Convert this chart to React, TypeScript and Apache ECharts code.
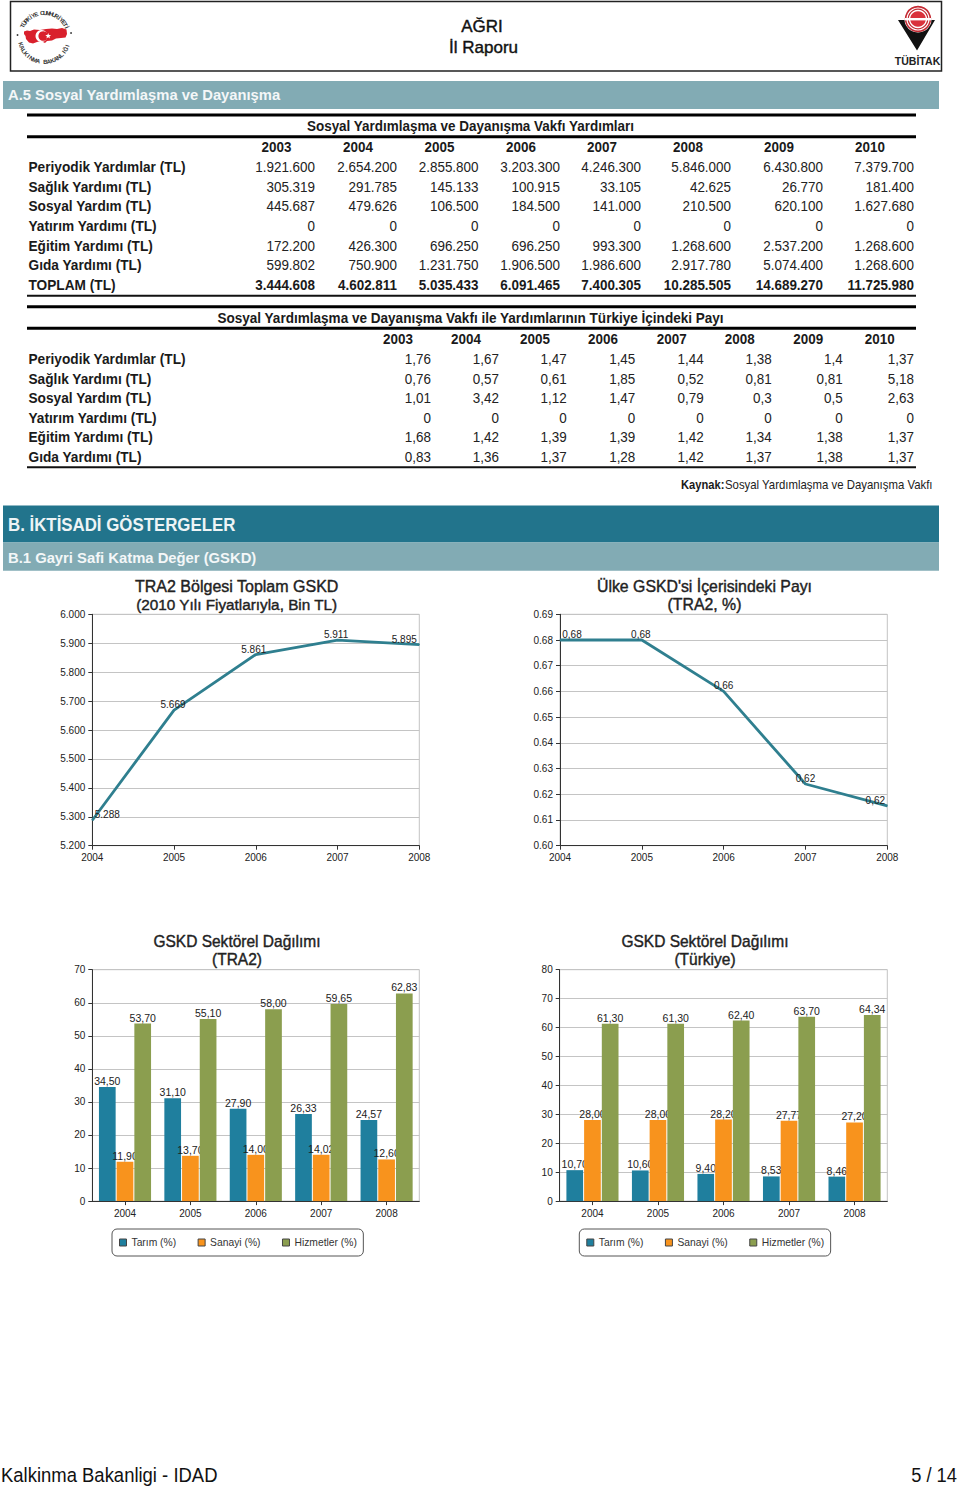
import React, { useEffect, useRef } from "react";
import * as echarts from "echarts";

const FONT = "'Liberation Sans', Arial, sans-serif";

// ---- page text ----
const PAGE_TITLE = "AĞRI";
const PAGE_SUBTITLE = "İl Raporu";
const SECTION_A5 = "A.5 Sosyal Yardımlaşma ve Dayanışma";
const SECTION_B = "B. İKTİSADİ GÖSTERGELER";
const SECTION_B1 = "B.1 Gayri Safi Katma Değer (GSKD)";
const FOOTER_LEFT = "Kalkinma Bakanligi - IDAD";
const FOOTER_RIGHT = "5 / 14";

// ---- tables ----
const TABLE_YEARS = ["2003", "2004", "2005", "2006", "2007", "2008", "2009", "2010"];
const TABLE1_TITLE = "Sosyal Yardımlaşma ve Dayanışma Vakfı Yardımları";
const TABLE1_LABELS = [
  "Periyodik Yardımlar (TL)",
  "Sağlık Yardımı (TL)",
  "Sosyal Yardım (TL)",
  "Yatırım Yardımı (TL)",
  "Eğitim Yardımı (TL)",
  "Gıda Yardımı (TL)",
  "TOPLAM (TL)",
];
const T1_PERIYODIK = ["1.921.600", "2.654.200", "2.855.800", "3.203.300", "4.246.300", "5.846.000", "6.430.800", "7.379.700"];
const T1_SAGLIK = ["305.319", "291.785", "145.133", "100.915", "33.105", "42.625", "26.770", "181.400"];
const T1_SOSYAL = ["445.687", "479.626", "106.500", "184.500", "141.000", "210.500", "620.100", "1.627.680"];
const T1_YATIRIM = ["0", "0", "0", "0", "0", "0", "0", "0"];
const T1_EGITIM = ["172.200", "426.300", "696.250", "696.250", "993.300", "1.268.600", "2.537.200", "1.268.600"];
const T1_GIDA = ["599.802", "750.900", "1.231.750", "1.906.500", "1.986.600", "2.917.780", "5.074.400", "1.268.600"];
const T1_TOPLAM = ["3.444.608", "4.602.811", "5.035.433", "6.091.465", "7.400.305", "10.285.505", "14.689.270", "11.725.980"];

const TABLE2_TITLE = "Sosyal Yardımlaşma ve Dayanışma Vakfı ile Yardımlarının Türkiye İçindeki Payı";
const T2_PERIYODIK = ["1,76", "1,67", "1,47", "1,45", "1,44", "1,38", "1,4", "1,37"];
const T2_SAGLIK = ["0,76", "0,57", "0,61", "1,85", "0,52", "0,81", "0,81", "5,18"];
const T2_SOSYAL = ["1,01", "3,42", "1,12", "1,47", "0,79", "0,3", "0,5", "2,63"];
const T2_YATIRIM = ["0", "0", "0", "0", "0", "0", "0", "0"];
const T2_EGITIM = ["1,68", "1,42", "1,39", "1,39", "1,42", "1,34", "1,38", "1,37"];
const T2_GIDA = ["0,83", "1,36", "1,37", "1,28", "1,42", "1,37", "1,38", "1,37"];
const SOURCE_BOLD = "Kaynak:";
const SOURCE_TEXT = "Sosyal Yardımlaşma ve Dayanışma Vakfı";

// ---- charts ----
const CHART_YEARS = ["2004", "2005", "2006", "2007", "2008"];
const TRA2_GSKD = [5288, 5669, 5861, 5911, 5895];
const TRA2_SHARE = [0.68, 0.68, 0.66, 0.624, 0.6155];
const TRA2_TARIM = [34.5, 31.1, 27.9, 26.33, 24.57];
const TRA2_SANAYI = [11.9, 13.7, 14.0, 14.02, 12.6];
const TRA2_HIZMET = [53.7, 55.1, 58.0, 59.65, 62.83];
const TR_TARIM = [10.7, 10.6, 9.4, 8.53, 8.46];
const TR_SANAYI = [28.0, 28.0, 28.2, 27.77, 27.2];
const TR_HIZMET = [61.3, 61.3, 62.4, 63.7, 64.34];
const SECTOR_NAMES = ["Tarım (%)", "Sanayi (%)", "Hizmetler (%)"];

const TITLE_1 = ["TRA2 Bölgesi Toplam GSKD", "(2010 Yılı Fiyatlarıyla, Bin TL)"];
const TITLE_2 = ["Ülke GSKD'si İçerisindeki Payı", "(TRA2, %)"];
const TITLE_3 = ["GSKD Sektörel Dağılımı", "(TRA2)"];
const TITLE_4 = ["GSKD Sektörel Dağılımı", "(Türkiye)"];

const BLUE = "#1f7f9e";
const ORANGE = "#f8931d";
const OLIVE = "#8b9e4f";
const LINE = "#2f7f8f";
const LIGHT_BAND = "#82abb4";
const DARK_BAND = "#22748c";
const INK = "#1a1a1a";

// ---- layout of the tables ----
const T1_RIGHT = [315, 397, 478.5, 560, 641, 731, 823, 914];
const T1_YEAR_X = [276.5, 358, 439.5, 521, 602, 688, 779, 870];
const T1_ROW_Y = [167, 186.6, 206.2, 226, 245.6, 265.2, 284.6];
const T2_RIGHT = [431, 499, 566.7, 635.3, 703.7, 771.7, 842.7, 914];
const T2_YEAR_X = [398, 466, 535, 603, 671.7, 739.7, 808.3, 879.7];
const T2_ROW_Y = [359, 378.5, 398, 417.7, 437.3, 457];

// label nudges along x for the line charts (first and last labels sit inside the plot)
const LINE1_DX = [15, -1, -2, -1.5, -15];
const LINE2_DX = [12, -1, 0, 0, -12];

const text = (t: string, x: number, y: number, size: number, opts: any = {}) => ({
  type: "text",
  x,
  y,
  z: 10,
  scaleX: opts.scaleX ?? 1,
  style: {
    text: t,
    fontFamily: FONT,
    fontSize: size,
    fontWeight: opts.weight ?? "normal",
    fill: opts.fill ?? INK,
    textAlign: opts.align ?? "left",
    textVerticalAlign: "middle",
    ...(opts.stroke ? { stroke: opts.fill ?? INK, lineWidth: opts.stroke } : {}),
  },
});

const rect = (x: number, y: number, w: number, h: number, fill: string) => ({
  type: "rect",
  z: 1,
  shape: { x, y, width: w, height: h },
  style: { fill },
});

function tableElements(
  title: string,
  titleY: number,
  titleScale: number,
  lineY: [number, number, number],
  yearY: number,
  yearX: number[],
  rowY: number[],
  right: number[],
  rows: string[][],
  boldLast: boolean
) {
  const els: any[] = [
    rect(27, lineY[0] - 1.5, 889, 3, "#000"),
    rect(27, lineY[1] - 1.5, 889, 3, "#000"),
    rect(27, lineY[2] - 1, 889, 2, "#111"),
    text(title, 470.5, titleY, 14.3, { weight: "bold", align: "center", scaleX: titleScale }),
  ];
  TABLE_YEARS.forEach((y, i) =>
    els.push(text(y, yearX[i], yearY, 14.3, { weight: "bold", align: "center", scaleX: 0.94 }))
  );
  rows.forEach((r, ri) => {
    const isBold = boldLast && ri === rows.length - 1;
    els.push(text(TABLE1_LABELS[ri], 28.5, rowY[ri], 14.3, { weight: "bold", scaleX: 0.957 }));
    r.forEach((v, ci) =>
      els.push(
        text(v, right[ci], rowY[ri], 14.3, {
          align: "right",
          weight: isBold ? "bold" : "normal",
          fill: isBold ? INK : "#222",
          scaleX: 0.94,
        })
      )
    );
  });
  return els;
}

function ringText(str: string, cx: number, cy: number, r: number, from: number, to: number, bottom: boolean) {
  const chars = Array.from(str);
  return chars.map((c, i) => {
    const a = ((from + ((to - from) * i) / (chars.length - 1)) * Math.PI) / 180;
    const x = cx + r * Math.sin(a);
    const y = bottom ? cy + r * Math.cos(a) : cy - r * Math.cos(a);
    return {
      type: "text",
      x,
      y,
      z: 10,
      rotation: bottom ? a : -a,
      style: {
        text: c,
        fontFamily: FONT,
        fontSize: 6,
        fontWeight: "bold",
        fill: "#333",
        textAlign: "center",
        textVerticalAlign: "middle",
      },
    };
  });
}

function logoElements() {
  const cx = 44.3;
  const cy = 37.5;
  const turkey = [
    [24, 31.5], [27, 30.5], [30, 31], [34, 29.5], [40, 30], [46, 29], [52, 28.5], [57, 29], [62, 28], [66.5, 29.5],
    [67, 34], [65.5, 37.5], [61, 38], [56, 38.5], [52, 40.5], [47, 41], [45, 43], [41, 41], [37, 42], [33, 43.5],
    [29, 42.5], [26, 39], [25.5, 36], [24, 34],
  ];
  const star = [0, 1, 2, 3, 4, 5, 6, 7, 8, 9].map((i) => {
    const a = (i * Math.PI) / 5 - Math.PI / 2;
    const r = i % 2 === 0 ? 3 : 1.3;
    return [48.2 + r * Math.cos(a), 36 + r * Math.sin(a)];
  });
  return [
    ...ringText("TÜRKİYE CUMHURİYETİ", cx, cy, 24.5, -62, 66, false),
    ...ringText("KALKINMA BAKANLIĞI", cx, cy, 24.5, -74, 70, true),
    { type: "circle", z: 10, shape: { cx: 17.5, cy: 35, r: 0.9 }, style: { fill: "#333" } },
    { type: "circle", z: 10, shape: { cx: 71, cy: 33, r: 0.9 }, style: { fill: "#333" } },
    { type: "polygon", z: 10, shape: { points: turkey }, style: { fill: "#d9202c" } },
    { type: "circle", z: 11, shape: { cx: 41.5, cy: 36, r: 6 }, style: { fill: "#fff" } },
    { type: "circle", z: 11, shape: { cx: 43.2, cy: 36, r: 4.8 }, style: { fill: "#d9202c" } },
    { type: "polygon", z: 12, shape: { points: star }, style: { fill: "#fff" } },
    // TÜBİTAK mark
    { type: "polygon", z: 10, shape: { points: [[898, 20], [908, 20], [917.5, 29], [927, 20], [935, 20], [917, 50.5]] }, style: { fill: "#111" } },
    { type: "circle", z: 11, shape: { cx: 918, cy: 19, r: 13.6 }, style: { fill: "#fff" } },
    { type: "ring", z: 12, shape: { cx: 918, cy: 19, r: 13.2, r0: 11.6 }, style: { fill: "#c42a33" } },
    { type: "ring", z: 12, shape: { cx: 918, cy: 19, r: 10.4, r0: 9.2 }, style: { fill: "#c42a33" } },
    { type: "circle", z: 12, shape: { cx: 918, cy: 19, r: 7.8 }, style: { fill: "#d9323c" } },
    { type: "rect", z: 13, shape: { x: 905, y: 18, width: 26, height: 2.4 }, style: { fill: "#fff" } },
    text("TÜBİTAK", 917.5, 60.5, 11.5, { weight: "bold", align: "center", fill: "#222", scaleX: 0.92 }),
  ];
}

function titleLines(lines: string[], x: number, y: number, size2: number, scale1: number) {
  return [
    text(lines[0], x, y, 16, { align: "center", fill: "#222", stroke: 0.4, scaleX: scale1 }),
    text(lines[1], x, y + 18.3, size2, { align: "center", fill: "#222", stroke: 0.4, scaleX: scale1 }),
  ];
}

function pageGraphics() {
  const t1Rows = [T1_PERIYODIK, T1_SAGLIK, T1_SOSYAL, T1_YATIRIM, T1_EGITIM, T1_GIDA, T1_TOPLAM];
  const t2Rows = [T2_PERIYODIK, T2_SAGLIK, T2_SOSYAL, T2_YATIRIM, T2_EGITIM, T2_GIDA];
  return [
    {
      type: "rect",
      z: 1,
      shape: { x: 10.5, y: 1.5, width: 931, height: 69.5 },
      style: { fill: "#fff", stroke: "#222", lineWidth: 1.5 },
    },
    text(PAGE_TITLE, 482, 26, 17, { align: "center", fill: "#111", stroke: 0.4 }),
    text(PAGE_SUBTITLE, 483.5, 47, 17, { align: "center", fill: "#111", stroke: 0.4 }),
    ...logoElements(),
    rect(3, 81, 936, 28, LIGHT_BAND),
    text(SECTION_A5, 8, 95, 15, { weight: "bold", fill: "#f4f7f8", scaleX: 0.985 }),
    ...tableElements(TABLE1_TITLE, 126, 0.942, [115, 136.7, 295.8], 147, T1_YEAR_X, T1_ROW_Y, T1_RIGHT, t1Rows, true),
    ...tableElements(TABLE2_TITLE, 318, 0.948, [306.7, 328.3, 467.3], 339, T2_YEAR_X, T2_ROW_Y, T2_RIGHT, t2Rows, false),
    text(SOURCE_BOLD, 681, 484.7, 12, { weight: "bold", scaleX: 0.93 }),
    text(SOURCE_TEXT, 932.5, 484.7, 12, { align: "right", fill: "#222", scaleX: 0.95 }),
    rect(3, 505.5, 936, 37, DARK_BAND),
    text(SECTION_B, 8, 525, 18, { weight: "bold", fill: "#eef4f6", scaleX: 0.936 }),
    rect(3, 542.5, 936, 28.3, LIGHT_BAND),
    text(SECTION_B1, 8, 557.5, 15, { weight: "bold", fill: "#f4f7f8", scaleX: 0.987 }),
    text(FOOTER_LEFT, 1, 1475, 19.5, { fill: "#111", scaleX: 0.947 }),
    text(FOOTER_RIGHT, 957, 1475, 19.5, { align: "right", fill: "#111", scaleX: 0.94 }),
    // chart titles
    ...titleLines(TITLE_1, 236.7, 586, 15.3, 1),
    ...titleLines(TITLE_2, 704.5, 586, 16, 0.99),
    ...titleLines(TITLE_3, 237, 941, 16, 0.97),
    ...titleLines(TITLE_4, 705, 941, 16, 0.97),
  ];
}

const axisStyle = { lineStyle: { color: "#333", width: 1 } };
const labelFont = { fontFamily: FONT, fontSize: 10, color: "#222" };

function xAxis(gridIndex: number, boundaryGap: boolean) {
  return {
    type: "category",
    gridIndex,
    data: CHART_YEARS,
    boundaryGap,
    axisLine: axisStyle,
    axisTick: { show: true, length: 4, alignWithLabel: true, lineStyle: { color: "#333" } },
    axisLabel: { ...labelFont, margin: 7, interval: 0, hideOverlap: false, showMinLabel: true, showMaxLabel: true },
    splitLine: { show: false },
  };
}

function yAxis(gridIndex: number, min: number, max: number, interval: number, fmt: (v: number) => string) {
  return {
    type: "value",
    gridIndex,
    min,
    max,
    interval,
    axisLine: { show: true, ...axisStyle },
    axisTick: { show: true, length: 4, lineStyle: { color: "#333" } },
    axisLabel: { ...labelFont, margin: 7, formatter: fmt, showMinLabel: true, showMaxLabel: true },
    splitLine: { show: true, lineStyle: { color: "#c4c4c4", width: 1 } },
  };
}

const dotThousand = (v: number) => {
  const s = String(Math.round(v));
  return s.slice(0, -3) + "." + s.slice(-3);
};
const comma2 = (v: number) => v.toFixed(2).replace(".", ",");

function lineSeries(idx: number, values: number[], dx: number[], fmt: (v: number) => string) {
  return {
    type: "line",
    xAxisIndex: idx,
    yAxisIndex: idx,
    data: values.map((value, i) => ({
      value,
      label: { offset: [dx[i], 0] },
    })),
    symbol: "circle",
    symbolSize: 1,
    showSymbol: true,
    showAllSymbol: true,
    lineStyle: { color: LINE, width: 2.8 },
    itemStyle: { color: LINE },
    label: {
      show: true,
      position: "top",
      distance: 0,
      fontFamily: FONT,
      fontSize: 10,
      color: "#222",
      formatter: (p: any) => fmt(typeof p.value === "number" ? p.value : p.data.value),
    },
  };
}

function barSeries(idx: number, name: string, values: number[], color: string, z: number) {
  return {
    type: "bar",
    name,
    xAxisIndex: idx,
    yAxisIndex: idx,
    data: values,
    z,
    barWidth: 16.7,
    barGap: "6%",
    itemStyle: { color },
    label: {
      show: true,
      position: "top",
      distance: 0.5,
      fontFamily: FONT,
      fontSize: 10.5,
      color: "#222",
      formatter: (p: any) => comma2(p.value),
    },
  };
}

function legend(left: number) {
  return {
    left,
    top: 1229,
    orient: "horizontal",
    data: SECTOR_NAMES,
    selectedMode: false,
    icon: "rect",
    itemWidth: 7,
    itemHeight: 7,
    itemGap: 21.5,
    padding: [8.5, 6.5, 8.5, 7],
    borderColor: "#555",
    borderWidth: 1,
    borderRadius: 5,
    backgroundColor: "#fff",
    itemStyle: { borderColor: "#444", borderWidth: 1 },
    textStyle: { fontFamily: FONT, fontSize: 10.3, color: "#333" },
  };
}

const gridBox = { show: true, borderColor: "#c4c4c4", borderWidth: 1, containLabel: false };

export default function App() {
  const ref = useRef<HTMLDivElement>(null);
  useEffect(() => {
    const chart = echarts.init(ref.current!, undefined, { renderer: "svg" });
    chart.setOption({
      animation: false,
      legend: [legend(112), legend(579.3)],
      grid: [
        { ...gridBox, left: 92.3, top: 614.3, width: 327, height: 231.4 },
        { ...gridBox, left: 560, top: 614.3, width: 327.3, height: 231.4 },
        { ...gridBox, left: 92.3, top: 969.7, width: 327, height: 231.4 },
        { ...gridBox, left: 559.7, top: 969.7, width: 327.6, height: 231.4 },
      ],
      xAxis: [xAxis(0, false), xAxis(1, false), xAxis(2, true), xAxis(3, true)],
      yAxis: [
        yAxis(0, 5200, 6000, 100, dotThousand),
        yAxis(1, 0.6, 0.69, 0.01, (v) => v.toFixed(2)),
        yAxis(2, 0, 70, 10, (v) => String(v)),
        yAxis(3, 0, 80, 10, (v) => String(v)),
      ],
      series: [
        lineSeries(0, TRA2_GSKD, LINE1_DX, dotThousand),
        lineSeries(1, TRA2_SHARE, LINE2_DX, comma2),
        barSeries(2, SECTOR_NAMES[0], TRA2_TARIM, BLUE, 2),
        barSeries(2, SECTOR_NAMES[1], TRA2_SANAYI, ORANGE, 3),
        barSeries(2, SECTOR_NAMES[2], TRA2_HIZMET, OLIVE, 4),
        barSeries(3, SECTOR_NAMES[0], TR_TARIM, BLUE, 2),
        barSeries(3, SECTOR_NAMES[1], TR_SANAYI, ORANGE, 3),
        barSeries(3, SECTOR_NAMES[2], TR_HIZMET, OLIVE, 4),
      ],
      graphic: { elements: pageGraphics() },
    });
    return () => chart.dispose();
  }, []);
  return <div ref={ref} style={{ position: "absolute", left: 0, top: 0, width: 960, height: 1488 }} />;
}
